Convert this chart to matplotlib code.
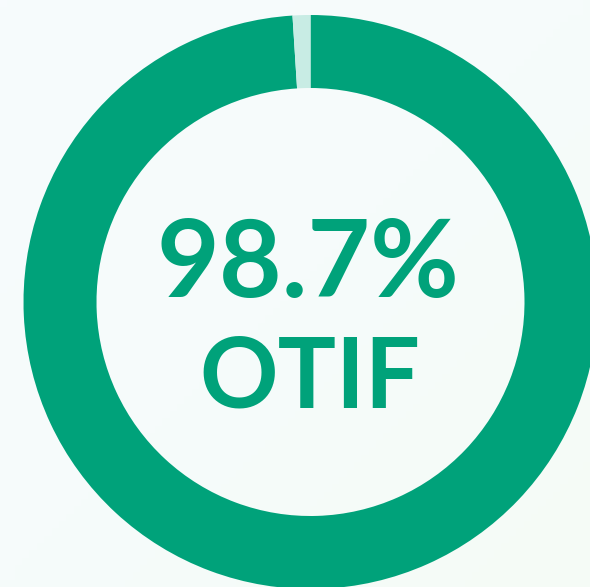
import numpy as np
import matplotlib
matplotlib.use("Agg")
import matplotlib.pyplot as plt
from matplotlib.colors import LinearSegmentedColormap

# data
segment_labels = ["On time in full", "Missed"]
segment_values = [99.0, 1.0]          # wedge sizes as read from the ring
segment_colors = ["#00a27a", "#c8ece4"]
kpi_text = "98.7%"
kpi_label = "OTIF"

W, H = 590, 587
fig = plt.figure(figsize=(W / 100, H / 100), dpi=100)
ax = fig.add_axes([0, 0, 1, 1])

# subtle background gradient: top-left bluish white -> bottom-right faint green
cmap = LinearSegmentedColormap.from_list("bg", ["#f7fbfd", "#f6fbfb", "#f5fbf6"])
rows = np.linspace(0, 1, 80)[:, None]
cols = np.linspace(0, 1, 80)[None, :]
grad = (rows + cols) / 2
ax.imshow(grad, cmap=cmap, extent=(0, W, 0, H), origin="upper",
          aspect="auto", zorder=0)

cx, cy = 310.5, H - 302
ax.pie(segment_values, colors=segment_colors, radius=287, center=(cx, cy),
       startangle=90, counterclock=False,
       wedgeprops=dict(width=73, linewidth=0), frame=True)

ax.set_xlim(0, W)
ax.set_ylim(0, H)
ax.set_aspect("equal")
ax.axis("off")

ax.text(308, H - 297, kpi_text, ha="center", va="baseline", fontsize=78,
        fontweight="bold", color="#00a27a", family=["Lato", "DejaVu Sans"])
ax.text(309.5, H - 408, kpi_label, ha="center", va="baseline", fontsize=70,
        fontweight="bold", color="#00a27a", family=["Lato", "DejaVu Sans"])

fig.savefig("out.png", dpi=100)
